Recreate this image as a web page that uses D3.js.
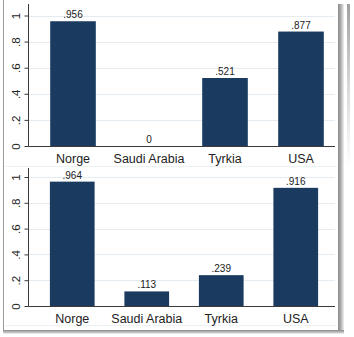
<!DOCTYPE html>
<html><head><meta charset="utf-8">
<script src="https://cdn.jsdelivr.net/npm/d3@7"></script>
<style>
html,body{margin:0;padding:0;background:#fff;}
svg{display:block;font-family:"Liberation Sans",Arial,sans-serif;}
</style></head>
<body><svg id="c" width="354" height="337"></svg>
<script>
const categories = ["Norge", "Saudi Arabia", "Tyrkia", "USA"];
const valuesTop = [0.956, 0, 0.521, 0.877];
const valuesBottom = [0.964, 0.113, 0.239, 0.916];
const yTicks = [0, 0.2, 0.4, 0.6, 0.8, 1];
const yTickLabels = ["0", ".2", ".4", ".6", ".8", "1"];

const barColor = "#1a3a60";
const gridColor = "#e4ecf1";
const axisColor = "#3a3a3a";
const svg = d3.select("#c");

// outer frame + shadow
const defs = svg.append("defs");
const gR = defs.append("linearGradient").attr("id","gr").attr("x1","0").attr("x2","1");
gR.append("stop").attr("offset","0").attr("stop-color","#8a8a8a");
gR.append("stop").attr("offset","0.5").attr("stop-color","#b0b0b0");
gR.append("stop").attr("offset","1").attr("stop-color","#f2f2f2");
const gB = defs.append("linearGradient").attr("id","gb").attr("x1","0").attr("x2","0").attr("y1","0").attr("y2","1");
gB.append("stop").attr("offset","0").attr("stop-color","#8a8a8a");
gB.append("stop").attr("offset","0.5").attr("stop-color","#b8b8b8");
gB.append("stop").attr("offset","1").attr("stop-color","#f4f4f4");
const gF = defs.append("linearGradient").attr("id","gf").attr("x1","0").attr("x2","0").attr("y1","0").attr("y2","1");
gF.append("stop").attr("offset","0").attr("stop-color","#a0a0a0");
gF.append("stop").attr("offset","0.25").attr("stop-color","#d8d8d8");
gF.append("stop").attr("offset","0.5").attr("stop-color","#ffffff");

svg.append("rect").attr("x",347).attr("y",4).attr("width",3).attr("height",326).attr("fill","url(#gf)");
svg.append("rect").attr("x",338).attr("y",4).attr("width",6).attr("height",329).attr("fill","url(#gr)");
svg.append("rect").attr("x",3).attr("y",330).attr("width",341).attr("height",4).attr("fill","url(#gb)");
svg.append("line").attr("x1",3.5).attr("x2",3.5).attr("y1",0).attr("y2",331).attr("stroke","#9a9a9a").attr("stroke-width",1);

// faint region separators
[166, 325].forEach(y => svg.append("line").attr("x1",5).attr("x2",337).attr("y1",y+0.5).attr("y2",y+0.5).attr("stroke","#edf1f4"));

const fmtVal = v => v === 0 ? "0" : d3.format(".3f")(v).replace(/^0/, "");

function panel(values, cfg) {
  const g = svg.append("g");
  const y = d3.scaleLinear().domain([0, 1]).range([cfg.y0, cfg.y1]);
  const x = d3.scaleBand().domain(categories).range(cfg.xr).paddingInner(0.4).paddingOuter(0.2);

  // gridlines
  g.append("g").selectAll("line").data(yTicks.filter(t => t > 0)).join("line")
    .attr("x1", cfg.ax).attr("x2", cfg.xEnd)
    .attr("y1", d => Math.round(y(d)) + 0.5).attr("y2", d => Math.round(y(d)) + 0.5)
    .attr("stroke", gridColor).attr("stroke-width", 1);

  // bars
  g.append("g").selectAll("rect").data(values).join("rect")
    .attr("x", (d, i) => x(categories[i]))
    .attr("width", x.bandwidth())
    .attr("y", d => y(d))
    .attr("height", d => y(0) - y(d))
    .attr("fill", barColor);

  // value labels
  g.append("g").selectAll("text").data(values).join("text")
    .attr("x", (d, i) => x(categories[i]) + x.bandwidth() / 2)
    .attr("y", d => y(d) - 3)
    .attr("text-anchor", "middle")
    .attr("font-size", "10px")
    .attr("fill", "#222")
    .text(fmtVal);

  // y axis
  const yAxis = d3.axisLeft(y).tickValues(yTicks).tickSize(4).tickSizeOuter(0)
    .tickFormat((d, i) => yTickLabels[i]);
  const ya = g.append("g").attr("transform", `translate(${cfg.ax},0)`).call(yAxis);
  ya.select(".domain").remove();
  ya.selectAll(".tick line").attr("stroke", axisColor);
  ya.selectAll(".tick text")
    .attr("font-size", "11.5px").attr("fill", "#222")
    .attr("font-family", "'Liberation Sans',Arial,sans-serif")
    .attr("x", null).attr("dy", null).attr("y", null)
    .attr("text-anchor", "middle")
    .attr("transform", "translate(-9,0) rotate(-90)");
  g.append("line").attr("x1", cfg.ax).attr("x2", cfg.ax)
    .attr("y1", cfg.axTop).attr("y2", y(0) + 0.5)
    .attr("stroke", axisColor).attr("stroke-width", 1);

  // x axis
  const xAxis = d3.axisBottom(x).tickSize(0).tickSizeOuter(0);
  const xa = g.append("g").attr("transform", `translate(0,${Math.round(y(0)) + 0.5})`).call(xAxis);
  xa.select(".domain").remove();
  xa.selectAll(".tick text").attr("font-size", "12.5px").attr("fill", "#222")
    .attr("font-family", "'Liberation Sans',Arial,sans-serif")
    .attr("dy", null).attr("y", 16);
  g.append("line").attr("x1", cfg.ax).attr("x2", cfg.xEnd)
    .attr("y1", Math.round(y(0)) + 0.5).attr("y2", Math.round(y(0)) + 0.5)
    .attr("stroke", axisColor).attr("stroke-width", 1);
}

panel(valuesTop, {y0: 146, y1: 15.5, xr: [35, 339], ax: 28.5, axTop: 4, xEnd: 335});
panel(valuesBottom, {y0: 306, y1: 177, xr: [35, 333], ax: 28.5, axTop: 168, xEnd: 335});
</script></body></html>
